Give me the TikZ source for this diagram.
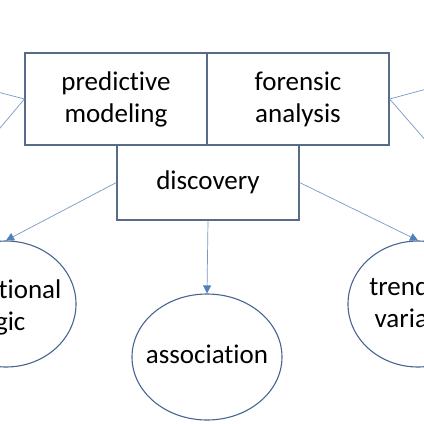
\documentclass[tikz,border=0pt]{standalone}
\usepackage{fontspec}
\setmainfont[Ligatures=NoCommon]{Carlito}
\usetikzlibrary{shapes.geometric,arrows.meta}
\definecolor{boxline}{RGB}{88,108,138}
\definecolor{ellline}{RGB}{72,100,145}
\definecolor{conn}{RGB}{120,152,196}
\definecolor{tipc}{RGB}{80,128,190}
\tikzset{
  boxnode/.style={draw=boxline,line width=1.2pt,rectangle,minimum width=182pt,inner sep=0pt,align=center,
    font=\fontsize{27}{32}\selectfont},
  ellnode/.style={draw=ellline,line width=1.1pt,ellipse,inner sep=0pt},
  elltext/.style={align=center,inner sep=0pt,font=\fontsize{27}{32}\selectfont},
  connline/.style={draw=conn,line width=0.7pt},
  arrowline/.style={connline,-{Triangle[length=8pt,width=8pt,color=tipc]}}
}
\begin{document}
\begin{tikzpicture}[x=1pt,y=-1pt]
\useasboundingbox (0,0) rectangle (424,424);
\node[boxnode,minimum height=92pt] (pm) at (116,99) {predictive\\modeling};
\node[boxnode,minimum height=92pt] (fa) at (298,99) {forensic\\analysis};
\node[boxnode,minimum height=75pt] (disc) at (208,182.5) {discovery};
\node[ellnode,minimum width=140pt,minimum height=126pt] (cl) at (6,304) {};
\node[elltext] (clt) at (0,307) {conditional\\logic};
\node[ellnode,minimum width=150pt,minimum height=126pt] (as) at (207,357) {};
\node[elltext] (ast) at (207,354) {association};
\node[ellnode,minimum width=140pt,minimum height=126pt] (tv) at (418,304) {};
\node[elltext] (tvt) at (423,302) {trend and\\variation};
\coordinate (l1) at (-10,90);
\coordinate (l2) at (-10,140);
\coordinate (r1) at (434,87);
\coordinate (r2) at (434,150);
\draw[connline] (pm.west) -- (l1);
\draw[connline] (pm.west) -- (l2);
\draw[connline] (fa.east) -- (r1);
\draw[connline] (fa.east) -- (r2);
\draw[arrowline] (disc.west) -- (cl.north);
\draw[arrowline] (disc.east) -- (tv.north);
\draw[arrowline] (disc.south) -- (as.north);
\end{tikzpicture}
\end{document}
